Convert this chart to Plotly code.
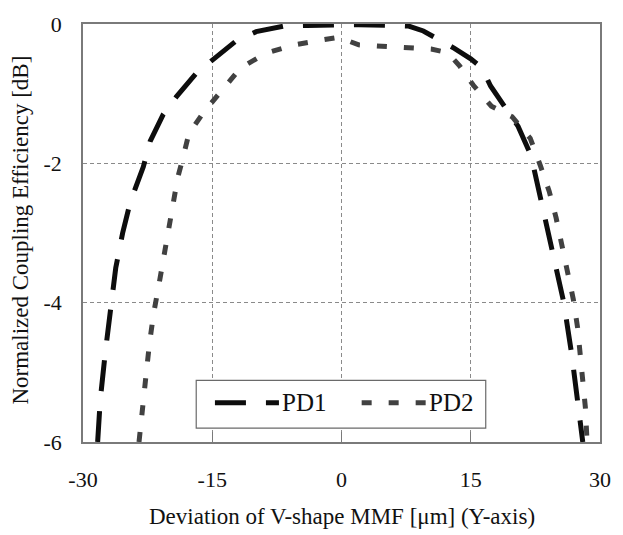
import plotly.graph_objects as go

# Coupling efficiency versus lateral deviation of the V-shape MMF
pd1_x = [-28.3, -28.0, -27.4, -26.8, -26.2, -25.4, -24.5, -23.0, -22.2, -20.7,
         -19.2, -16.8, -15.0, -12.2, -9.9, -6.7, -4.0, -1.0, 2.0, 5.5,
         7.8, 9.5, 11.1, 13.1, 15.0, 16.3, 17.3, 19.5, 20.5, 22.0,
         23.3, 24.6, 25.8, 26.7, 27.4, 28.0]
pd1_y = [-6.0, -5.4, -4.7, -4.1, -3.5, -3.0, -2.55, -2.05, -1.68, -1.30,
         -1.05, -0.70, -0.52, -0.24, -0.11, -0.03, -0.02, -0.01, -0.01, -0.02,
         -0.03, -0.10, -0.21, -0.35, -0.50, -0.63, -0.89, -1.29, -1.47, -1.89,
         -2.60, -3.30, -4.00, -4.73, -5.44, -6.0]

pd2_x = [-23.5, -23.1, -22.7, -22.3, -21.8, -21.2, -20.6, -20.0, -19.5, -19.0,
         -18.5, -17.7, -15.9, -13.8, -11.7, -8.8, -5.5, -2.3, -0.3, 2.0,
         4.0, 7.0, 10.4, 12.3, 13.7, 15.3, 17.4, 19.8, 21.9, 23.1,
         24.1, 24.9, 25.6, 26.3, 26.9, 27.4, 27.7, 28.0, 28.3, 28.5]
pd2_y = [-6.0, -5.43, -5.06, -4.6, -4.15, -3.75, -3.35, -2.95, -2.55, -2.2,
         -1.97, -1.57, -1.25, -0.93, -0.63, -0.42, -0.30, -0.23, -0.19, -0.30,
         -0.31, -0.33, -0.36, -0.41, -0.60, -0.88, -1.18, -1.33, -1.64, -2.04,
         -2.40, -2.78, -3.17, -3.56, -3.95, -4.36, -4.75, -5.15, -5.50, -6.0]

series_names = ["PD1", "PD2"]
series_colors = ["#0d0d0d", "#414141"]
series_dash = ["31px,20px", "10px,17px"]

x_ticks = [-30, -15, 0, 15, 30]
y_ticks = [0, -2, -4, -6]

FONT = "Liberation Serif, Times New Roman, serif"
LW = 5
tick_font = dict(family=FONT, size=22, color="#111")

fig = go.Figure()
for name, xs, ys, col, dash in zip(series_names, [pd1_x, pd2_x], [pd1_y, pd2_y],
                                   series_colors, series_dash):
    fig.add_trace(go.Scatter(x=xs, y=ys, mode="lines", name=name, showlegend=False,
                             line=dict(color=col, width=LW, dash=dash)))

axis_common = dict(
    showgrid=True, gridcolor="#8a8a8a", gridwidth=1, griddash="4px,3px",
    showline=True, linecolor="#7a7a7a", linewidth=1.5, mirror=True,
    zeroline=False,
)
fig.update_layout(
    xaxis=dict(range=[-30, 30], tickmode="array", tickvals=x_ticks,
               ticktext=[str(v) for v in x_ticks], tickfont=tick_font,
               ticks="inside", ticklen=10, tickcolor="#7a7a7a", tickwidth=1,
               ticklabelstandoff=17, **axis_common),
    yaxis=dict(range=[-6, 0], tickmode="array", tickvals=y_ticks,
               ticktext=[str(v) for v in y_ticks], tickfont=tick_font,
               ticks="", ticklabelstandoff=15, **axis_common),
)

# Boxed legend drawn inside the plot area
box = dict(x0=0.219, x1=0.779, y0=0.033, y1=0.1475)
fig.add_shape(type="rect", xref="paper", yref="paper", layer="above",
              line=dict(color="#6a6a6a", width=1.2), fillcolor="white", **box)
legend_y = 0.0937
legend_lines = [(0.2552, 0.3790), (0.5390, 0.6629)]
legend_text_x = [0.381, 0.665]
for (lx0, lx1), tx, name, col, dash in zip(legend_lines, legend_text_x, series_names,
                                           series_colors, series_dash):
    fig.add_shape(type="line", xref="paper", yref="paper", layer="above",
                  x0=lx0, x1=lx1, y0=legend_y, y1=legend_y,
                  line=dict(color=col, width=LW, dash=dash))
    fig.add_annotation(x=tx, y=legend_y, xref="paper", yref="paper", text=name,
                       showarrow=False, xanchor="left", yanchor="middle",
                       font=dict(family=FONT, size=25, color="#111"))

# Axis titles
fig.add_annotation(x=0.5, y=-0.178, xref="paper", yref="paper",
                   text="Deviation of V-shape MMF [μm] (Y-axis)", showarrow=False,
                   xanchor="center", yanchor="middle",
                   font=dict(family=FONT, size=23, color="#111"))
fig.add_annotation(x=-0.12, y=0.508, xref="paper", yref="paper",
                   text="Normalized Coupling Efficiency [dB]", showarrow=False,
                   textangle=-90, xanchor="center", yanchor="middle",
                   font=dict(family=FONT, size=23, color="#111"))

fig.update_layout(
    width=623, height=535, autosize=False,
    margin=dict(l=83, r=15, t=15, b=93),
    paper_bgcolor="white", plot_bgcolor="white",
    font=dict(family=FONT, color="#111"),
    showlegend=False,
)

# Page without the default body margin so the figure fills the window
fig.write_html("out.html",
               post_script="document.body.style.margin='0';"
                           "document.body.style.overflow='hidden';")
